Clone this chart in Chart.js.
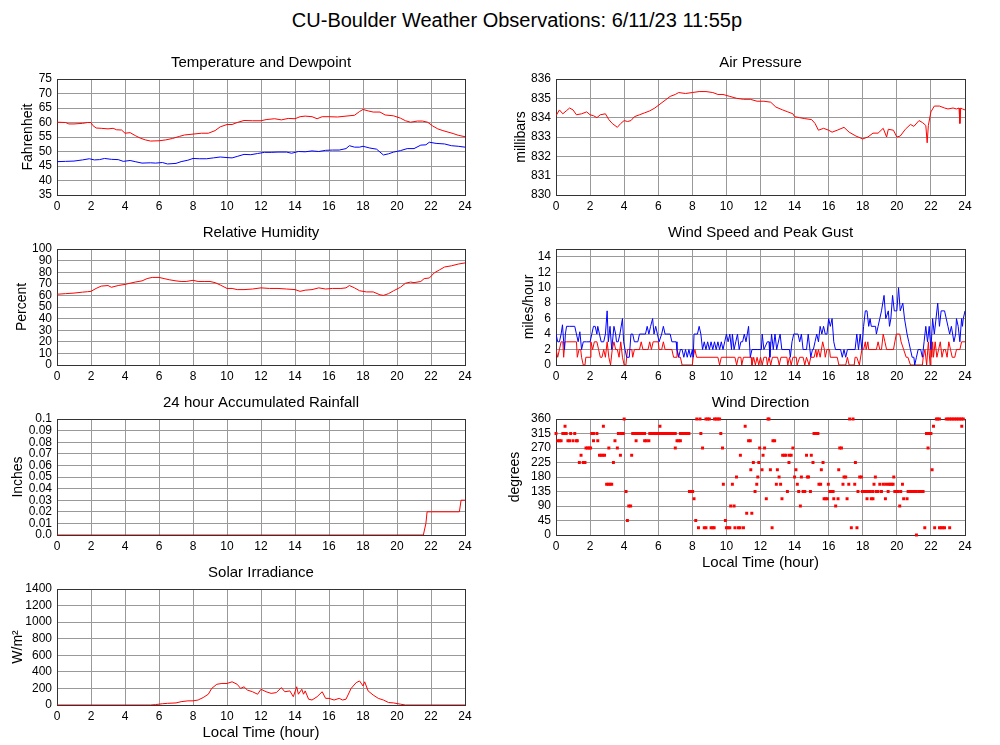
<!DOCTYPE html>
<html><head><meta charset="utf-8">
<script src="https://cdn.jsdelivr.net/npm/chart.js@4.4.0/dist/chart.umd.min.js"></script>
<style>
html,body{margin:0;padding:0;background:#fff;overflow:hidden;}
#wrap{position:relative;width:1000px;height:745px;background:#fff;}
canvas{position:absolute;}
#main{position:absolute;left:0;width:1034px;top:10px;text-align:center;font:20px/20px "Liberation Sans",Arial,sans-serif;color:#000;}
</style></head><body><div id="wrap"><div id="main">CU-Boulder Weather Observations: 6/11/23 11:55p</div></div>
<script>
// ---------------- data ----------------
const hourTicks = [0,2,4,6,8,10,12,14,16,18,20,22,24];

const tempHour = [0,0.5,0.7,1.0,1.5,1.8,2.0,2.1,2.3,2.6,3.0,3.3,3.5,3.8,4.0,4.3,4.6,4.9,5.2,5.5,6.0,6.4,6.8,7.2,7.5,8.0,8.5,8.9,9.3,9.6,10.0,10.3,10.6,11.0,11.5,12.0,12.3,12.8,13.2,13.6,14.0,14.3,14.6,15.0,15.3,15.6,16.0,16.5,17.0,17.5,17.8,18.0,18.3,18.6,19.0,19.3,19.8,20.2,20.5,20.8,21.2,21.5,21.8,22.1,22.4,22.7,23.0,23.3,23.6,24.0];
const tempF = [60.1,60.0,59.5,59.5,59.7,60.0,60.0,59.0,58.1,58.0,57.8,58.0,57.5,57.4,56.3,56.5,55.5,54.6,54.0,53.6,53.7,54.0,54.5,55.2,55.7,56.0,56.3,56.3,57.2,58.5,59.3,59.3,60.0,60.7,60.6,60.6,61.0,61.3,60.9,61.4,61.3,62.0,62.2,62.0,61.3,62.0,62.0,61.9,62.2,62.5,63.8,64.5,64.0,63.6,63.6,62.6,62.3,61.5,60.6,60.1,60.5,60.5,60.1,58.8,57.8,57.2,56.7,56.2,55.6,55.1];

const dewHour = [0,0.5,1.0,1.5,1.9,2.2,2.5,2.8,3.2,3.6,3.9,4.3,4.6,5.0,5.5,5.8,6.2,6.5,7.0,7.3,7.7,8.0,8.4,8.8,9.2,9.6,10.0,10.3,10.6,11.0,11.4,11.8,12.2,12.6,13.0,13.5,13.8,14.2,14.6,15.0,15.4,15.8,16.2,16.6,17.0,17.2,17.5,17.8,18.0,18.4,18.8,19.2,19.5,19.8,20.2,20.6,21.0,21.4,21.7,21.9,22.3,22.8,23.2,23.6,24.0];
const dewF = [46.5,46.6,46.7,47.1,47.5,47.1,47.2,47.6,47.3,47.2,46.6,46.9,46.5,46.0,46.1,46.0,46.2,45.7,45.9,46.5,47.0,47.6,47.5,47.5,47.8,48.1,47.9,47.8,48.3,49.0,48.9,49.3,49.7,49.7,49.8,49.8,49.4,50.0,49.9,50.2,50.0,50.4,50.5,50.5,51.0,52.0,51.5,51.5,51.8,51.2,50.8,48.8,49.2,49.8,50.3,51.0,51.0,52.2,52.3,53.2,52.8,52.6,52.0,51.8,51.5];

const presHour = [0,0.2,0.4,0.6,0.8,1.0,1.2,1.5,1.8,2.0,2.2,2.4,2.6,2.9,3.1,3.3,3.6,3.8,4.0,4.2,4.4,4.6,4.9,5.2,5.5,5.8,6.1,6.4,6.7,7.0,7.2,7.6,8.0,8.4,8.8,9.2,9.5,9.8,10.2,10.6,11.0,11.4,11.8,12.2,12.6,12.9,13.3,13.6,13.9,14.0,14.3,14.6,15.0,15.2,15.4,15.7,16.0,16.2,16.5,16.9,17.2,17.6,18.0,18.3,18.6,18.9,19.2,19.4,19.5,19.8,20.0,20.2,20.5,20.8,21.0,21.3,21.5,21.7,21.78,21.85,22.0,22.2,22.5,22.8,23.0,23.3,23.5,23.65,23.7,23.75,23.85,24.0];
const presMb = [834.1,834.4,834.2,834.35,834.5,834.4,834.15,834.2,834.3,834.15,834.1,834.0,834.15,834.2,833.9,833.7,833.5,833.7,833.85,833.8,833.85,834.05,834.15,834.25,834.35,834.5,834.7,834.9,835.1,835.2,835.3,835.25,835.3,835.35,835.35,835.3,835.2,835.2,835.1,835.0,834.95,834.95,834.85,834.85,834.8,834.55,834.4,834.3,834.2,834.05,834.0,833.95,833.9,833.7,833.35,833.45,833.35,833.25,833.35,833.5,833.25,833.05,832.9,833.0,833.2,833.2,833.45,833.0,833.4,833.35,833.0,833.05,833.4,833.65,833.55,833.85,833.75,833.6,832.7,833.6,834.3,834.6,834.6,834.5,834.45,834.5,834.45,834.5,833.7,834.5,834.45,834.4];

const rhHour = [0,0.5,1.0,1.5,1.8,2.0,2.3,2.6,3.0,3.2,3.6,4.0,4.3,4.6,5.0,5.3,5.6,6.0,6.3,6.6,7.0,7.3,7.6,8.0,8.3,8.7,9.0,9.3,9.6,10.0,10.3,10.6,11.0,11.5,12.0,12.5,13.0,13.5,14.0,14.3,14.6,15.0,15.4,15.8,16.2,16.7,17.0,17.2,17.5,17.8,18.2,18.6,19.0,19.2,19.5,19.8,20.2,20.5,20.8,21.0,21.4,21.6,21.9,22.2,22.5,22.8,23.2,23.6,24.0];
const rhPct = [61,61.5,62,62.8,63.2,63.5,66,68,68.5,67,68.5,69.5,70.5,71.5,72.5,74.5,75.5,75.5,74.5,73.5,72.5,72,72,73,72,72,72,71,69,66,66,65,65,65.5,66.5,66,66,65.5,65,63.5,64.5,65,66.5,65.5,66,66,66.5,68.5,66.5,64,63,63,60.5,60,61.5,64,67,70.5,71.5,71,72,74.5,75,79.5,82,84.5,85.5,87,88];

const gustHour = [0.0,0.1,0.2,0.3,0.38,0.45,0.5,0.55,0.62,0.8,1.0,1.1,1.2,1.3,1.4,1.5,1.6,1.8,2.0,2.1,2.2,2.3,2.4,2.45,2.55,2.65,2.8,2.9,3.0,3.07,3.17,3.27,3.4,3.5,3.55,3.65,3.75,3.9,3.97,4.05,4.15,4.3,4.4,4.5,4.6,4.8,4.9,5.1,5.25,5.35,5.45,5.55,5.67,5.75,5.85,5.95,6.05,6.2,6.3,6.4,6.5,6.7,6.8,7.05,7.1,7.2,7.3,7.4,7.5,7.6,7.7,7.8,7.9,8.0,8.05,8.1,8.3,8.4,8.5,8.6,8.7,8.8,8.9,9.0,9.1,9.2,9.3,9.4,9.5,9.6,9.7,9.8,9.9,10.0,10.1,10.2,10.3,10.35,10.45,10.55,10.65,10.75,10.85,10.95,11.05,11.15,11.3,11.4,11.5,11.8,12.05,12.1,12.2,12.4,12.5,12.55,12.65,12.75,12.85,12.95,13.15,13.25,13.5,13.7,13.75,13.85,13.95,14.2,14.3,14.4,14.5,14.7,14.8,14.95,15.05,15.1,15.2,15.3,15.4,15.5,15.6,15.7,15.8,15.9,16.0,16.1,16.2,16.3,16.4,16.7,16.8,16.9,17.0,17.1,17.55,17.65,17.75,17.85,17.95,18.05,18.15,18.25,18.35,18.43,18.5,18.75,18.8,18.9,19.0,19.1,19.25,19.35,19.5,19.57,19.65,19.75,19.85,20.0,20.1,20.2,20.35,20.45,20.6,20.7,20.8,20.9,21.0,21.05,21.15,21.25,21.4,21.5,21.6,21.7,21.8,21.9,22.0,22.1,22.2,22.3,22.4,22.5,22.6,22.8,22.9,23.0,23.1,23.2,23.35,23.45,23.5,23.6,23.7,23.8,23.85,23.9,24.0];
const gustMph = [4,3,3,4,5.2,3,2,4,5,5,5,5,4,3,4.3,2,3,3,3,4,5,5,4,5,4,3,3,4,7,3,5,2,5,4,3,3,4,6,3,2,1,1,4,4,3,3,4,4,4,5,4,5,6,4,5,4,3,4,5,4,4,4,3,3,2,1,2,2,1,2,1,2,1,2,1,4,4,5,4,2,3,2,3,2,3,2,3,2,3,2,3,2,3,4,3,4,2,4,2,3,4,2,3,3,4,3,5,1,2,2,2,4,2,3,3,1,4,2,4,2,4,2,2,2,1,3,4,4,3,4,2,2,4,1,2,2,3,4,3,5,4,5,4,4,6,5,6,3,2,2,1,2,1,2,2,4,2,4,2,5,7,7,5,6,5,5,4,5,6,7,9,6,7,5,6,9,7,7,10,7,8,6,4,3,2,1,1,0,1,2,2,1,3,5,3,5,2,6,4,6,8,5,7,7,6,5,4,5,3,4,6,5,3,6,5,6,7];

const speedHour = [0.0,0.1,0.2,0.3,0.4,0.45,0.52,0.6,1.2,1.25,1.35,1.45,1.5,1.6,1.7,1.75,2.0,2.05,2.15,2.25,2.4,2.5,2.6,2.7,2.8,2.9,3.0,3.1,3.2,3.3,3.4,3.5,3.6,3.7,3.8,3.9,4.0,4.1,4.2,4.3,4.45,4.5,4.6,4.8,4.9,5.0,5.1,5.3,5.4,5.5,5.6,5.7,6.0,6.05,6.2,6.3,6.4,6.8,6.9,7.05,7.1,7.2,7.3,7.4,8.0,8.05,8.15,8.25,9.5,9.6,9.7,10.5,10.6,10.7,10.85,10.9,11.0,11.45,11.5,11.6,11.7,11.8,11.9,12.0,12.1,12.2,12.35,12.4,12.5,12.6,12.7,13.0,13.1,13.2,13.55,13.6,13.7,13.8,13.9,14.1,14.15,14.3,14.5,14.6,14.7,14.85,14.95,15.15,15.25,15.3,15.4,15.5,15.65,15.75,15.8,15.9,16.05,16.1,16.5,16.6,17.0,17.1,17.2,17.5,17.55,17.65,17.8,17.95,18.05,18.15,18.2,18.3,18.35,18.8,18.9,19.0,19.1,19.2,19.3,19.4,19.8,19.97,20.17,20.25,20.4,20.55,20.65,20.8,21.5,21.55,21.65,21.75,21.85,21.95,22.0,22.05,22.1,22.15,22.25,22.35,22.45,22.55,22.65,22.75,22.85,22.95,23.05,23.15,23.25,23.4,23.5,23.7,23.8,24.0];
const speedMph = [2,1,2,3,3,1,3,3,3,1,2,2,1,0,0,1,1,3,2,3,3,2,1,1,2,1,3,1,0,2,3,2,2,1,3,1,0,0,2,2,2,1,2,2,2,3,2,2,2,3,2,3,3,2,2,3,2,2,1,1,2,1,1,0,0,1,2,1,1,0,1,1,0,1,1,0,1,1,0,1,0,1,0,1,0,1,1,0,1,0,1,1,0,1,1,0,1,0,1,1,0,1,1,0,1,0,1,1,2,1,2,1,3,2,1,2,2,1,1,0,0,1,0,0,1,1,0,2,2,3,2,3,2,2,3,2,2,4,3,2,2,4,4,3,2,1,1,0,0,1,2,0,3,0,3,1,3,1,3,1,2,3,1,2,2,1,3,2,1,1,2,2,3,3];

const rainHour = [0,21.55,21.7,21.77,23.67,23.77,24];
const rainIn = [0,0,0.01,0.02,0.02,0.03,0.03];

const dirLevels = [360,337.5,315,292.5,270,247.5,225,202.5,180,157.5,135,112.5,90,67.5,45,22.5,0];
const dirHoursByLevel = [
  [4.0,8.26,8.45,8.8,8.9,9.0,9.3,9.4,9.5,9.6,12.44,12.5,17.23,17.43,22.32,22.4,22.5,22.9,23.0,23.1,23.2,23.3,23.4,23.5,23.6,23.7,23.8,23.9],
  [0.53,2.78,6.1,11.1,22.15,23.81],
  [0.0,0.4,0.5,0.6,0.86,1.1,2.1,2.2,2.4,3.66,3.8,3.95,4.5,4.6,4.7,4.8,4.9,5.0,5.1,5.2,5.5,5.6,5.7,5.8,5.9,6.0,6.1,6.2,6.3,6.4,6.5,6.6,6.7,6.8,6.9,7.0,7.3,7.4,7.5,7.6,7.7,7.8,8.5,9.67,15.14,15.25,15.37,21.74,21.85,21.95,22.0],
  [0.1,0.2,0.3,0.7,0.8,1.0,1.2,1.25,2.2,2.45,3.46,4.7,5.2,5.3,5.45,7.1,7.2,7.3,11.3,11.4,12.73,12.83],
  [1.76,1.85,1.95,2.03,3.1,3.6,7.0,8.6,9.77,11.95,12.24,13.9,16.65,16.75,21.83],
  [1.47,2.55,2.65,2.75,2.85,3.78,4.44,10.82,12.15,13.3,13.4,13.5,13.7,13.8,14.7,14.98],
  [1.37,1.6,1.7,3.37,11.58,11.9,13.67,15.08,15.67,17.57],
  [11.43,12.09,12.58,12.99,14.08,15.57,16.59,22.07],
  [10.59,11.84,13.09,14.0,14.4,14.75,14.82,16.9,17.0,17.82,17.92,18.74,19.82],
  [2.97,3.07,3.17,3.27,9.82,10.35,11.78,12.93,13.18,14.16,15.43,15.53,15.98,16.84,17.18,17.53,18.66,19.0,19.2,19.35,19.5,19.6,19.7,19.78,20.33],
  [4.11,7.83,7.9,8.02,11.68,13.58,14.24,14.5,14.6,14.93,16.06,16.16,16.26,17.72,17.98,18.1,18.2,18.3,18.45,18.6,18.8,18.9,19.1,19.49,19.88,19.98,20.08,20.23,20.66,20.75,20.85,20.95,21.05,21.15,21.3,21.4,21.54],
  [8.1,12.34,13.26,15.73,15.82,15.92,16.3,16.55,17.08,18.25,18.5,18.6,19.33,20.4,20.6],
  [4.27,4.38,10.25,10.45,14.34,16.41,20.17],
  [11.19,11.49],
  [4.19,8.2,9.94],
  [8.36,8.7,8.8,9.1,9.2,9.28,10.0,10.1,10.2,10.5,10.7,10.8,11.0,12.68,17.33,17.66,21.64,22.22,22.5,22.6,22.7,22.8,23.1],
  [21.15]
];

const solarHour = [0,5.5,5.8,6.2,6.5,7.0,7.3,7.7,8.0,8.3,8.6,8.9,9.1,9.4,9.7,10.0,10.3,10.6,10.8,11.0,11.2,11.5,11.8,12.0,12.3,12.6,12.9,13.2,13.4,13.7,13.9,14.1,14.2,14.4,14.5,14.6,14.8,15.0,15.3,15.6,15.8,16.0,16.3,16.6,16.8,17.0,17.3,17.6,17.8,18.0,18.1,18.3,18.6,18.9,19.2,19.5,19.8,20.2,20.5,24];
const solarW = [0,0,5,15,20,25,40,50,50,60,90,130,200,250,260,260,280,250,200,220,180,160,130,190,160,140,150,210,160,170,100,220,130,190,130,170,70,60,100,160,80,80,60,80,60,70,200,270,290,230,280,170,120,80,60,30,25,10,0,0];

// ---------------- drawing ----------------
const FONT = '"Liberation Sans", Arial, Helvetica, sans-serif';
const RED = '#ff0000', BLUE = '#0000ff';
const wrap = document.getElementById('wrap');
const zip = (xs, ys) => xs.map((x, i) => ({x, y: ys[i]}));

const frame = {
  id: 'frame',
  beforeDatasetsDraw(chart) {
    const a = chart.chartArea, c = chart.ctx;
    c.save(); c.strokeStyle = '#333'; c.lineWidth = 1;
    c.strokeRect(Math.round(a.left) + 0.5, Math.round(a.top) + 0.5, Math.round(a.right - a.left), Math.round(a.bottom - a.top));
    c.restore();
  }
};

function lineDs(xs, ys, color) {
  return {data: zip(xs, ys), borderColor: color, borderWidth: 1, pointRadius: 0, tension: 0, fill: false};
}

function makePanel(p) {
  const yw = 57;
  const W = (p.R - p.L) + 2 * yw;
  const xh = p.xTitle ? 40 : 20;
  const H = 30 + (p.B - p.T) + xh;
  const cv = document.createElement('canvas');
  cv.width = W; cv.height = H;
  cv.style.left = (p.L - yw) + 'px'; cv.style.top = (p.T - 30) + 'px';
  cv.style.width = W + 'px'; cv.style.height = H + 'px';
  wrap.appendChild(cv);
  const tickFont = {family: FONT, size: 12};
  new Chart(cv, {
    type: p.type || 'line',
    data: {datasets: p.datasets},
    options: {
      responsive: false, animation: false, devicePixelRatio: 1,
      layout: {padding: {left: 0, right: yw, top: 0, bottom: 0}},
      plugins: {
        legend: {display: false}, tooltip: {enabled: false},
        title: {display: true, text: p.title, fullSize: false, color: '#000',
          font: {family: FONT, size: 15, weight: 'normal'}, padding: {top: 5, bottom: 7}}
      },
      scales: {
        x: {
          type: 'linear', min: 0, max: 24,
          afterFit(s) { s.height = xh; },
          afterBuildTicks(s) { s.ticks = hourTicks.map(v => ({value: v})); },
          ticks: {autoSkip: false, maxRotation: 0, color: '#000', font: tickFont, padding: 4},
          grid: {color: '#999', drawTicks: false}, border: {display: false},
          title: {display: !!p.xTitle, text: p.xTitle || '', color: '#000',
            font: {family: FONT, size: 15}, padding: {top: 0, bottom: 3}}
        },
        y: {
          type: 'linear', min: p.yMin, max: p.yMax,
          afterFit(s) { s.width = yw; },
          ticks: {stepSize: p.yStep, autoSkip: false, includeBounds: p.includeBounds !== false, color: '#000', font: tickFont, padding: 5,
            callback: p.yTickCb || (v => v)},
          grid: {color: '#999', drawTicks: false}, border: {display: false},
          title: {display: true, text: p.yTitle, color: '#000', font: {family: FONT, size: 14},
            padding: {top: p.yPad, bottom: 0}}
        }
      }
    },
    plugins: [frame]
  });
}

makePanel({L: 57, R: 465, T: 79, B: 195, title: 'Temperature and Dewpoint', yTitle: 'Fahrenheit', yPad: 19.8,
  yMin: 35, yMax: 75, yStep: 5,
  datasets: [lineDs(tempHour, tempF, RED), lineDs(dewHour, dewF, BLUE)]});

makePanel({L: 556, R: 965, T: 79, B: 195, title: 'Air Pressure', yTitle: 'millibars', yPad: 13.5,
  yMin: 830, yMax: 836, yStep: 1,
  datasets: [lineDs(presHour, presMb, RED)]});

makePanel({L: 57, R: 465, T: 249, B: 365, title: 'Relative Humidity', yTitle: 'Percent', yPad: 14.2,
  yMin: 0, yMax: 100, yStep: 10,
  datasets: [lineDs(rhHour, rhPct, RED)]});

makePanel({L: 556, R: 965, T: 249, B: 365, title: 'Wind Speed and Peak Gust', yTitle: 'miles/hour', yPad: 21.5,
  yMin: 0, yMax: 15, yStep: 2, includeBounds: false,
  datasets: [lineDs(gustHour, gustMph, BLUE), lineDs(speedHour, speedMph, RED)]});

makePanel({L: 57, R: 465, T: 419, B: 535, title: '24 hour Accumulated Rainfall', yTitle: 'Inches', yPad: 10.2,
  yMin: 0, yMax: 0.1, yStep: 0.01,
  yTickCb: v => (Math.abs(v) < 1e-9 ? '0.0' : String(Math.round(v * 100) / 100)),
  datasets: [lineDs(rainHour, rainIn, RED)]});

const dirPoints = [];
dirLevels.forEach((deg, i) => dirHoursByLevel[i].forEach(h => dirPoints.push({x: h, y: deg})));
makePanel({L: 556, R: 965, T: 419, B: 535, title: 'Wind Direction', yTitle: 'degrees', yPad: 7.3,
  yMin: 0, yMax: 360, yStep: 45, type: 'scatter', xTitle: 'Local Time (hour)',
  datasets: [{data: dirPoints, showLine: false, pointStyle: 'rect', pointRadius: 2.1, pointBorderWidth: 0,
    backgroundColor: RED, borderColor: RED, clip: false}]});

makePanel({L: 57, R: 465, T: 589, B: 705, title: 'Solar Irradiance', yTitle: 'W/m\u00B2', yPad: 9.5,
  yMin: 0, yMax: 1400, yStep: 200, xTitle: 'Local Time (hour)',
  datasets: [lineDs(solarHour, solarW, RED)]});
</script>
</body></html>
